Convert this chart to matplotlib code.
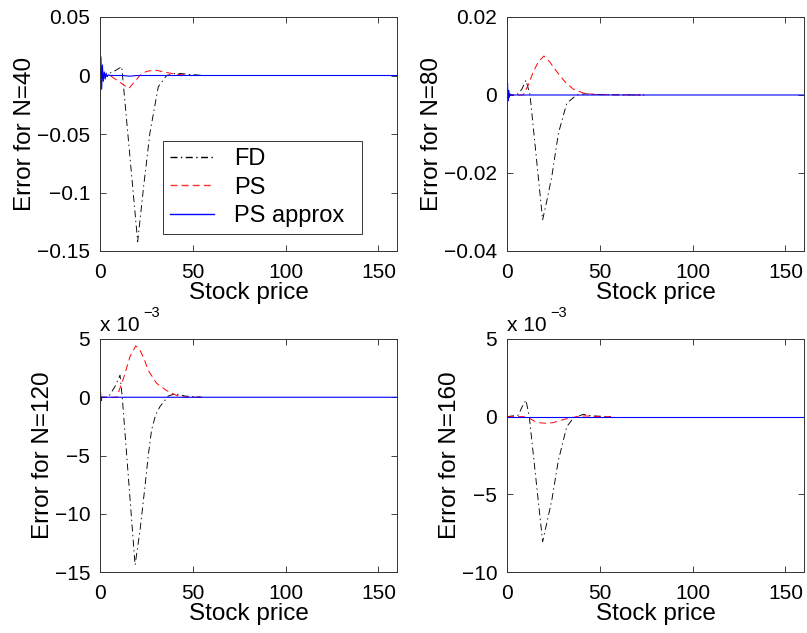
import matplotlib
matplotlib.use("Agg")
import matplotlib.pyplot as plt
from matplotlib.ticker import FixedLocator, FuncFormatter

plt.rcParams["font.family"] = ["Liberation Sans", "DejaVu Sans"]
plt.rcParams["lines.scale_dashes"] = False
plt.rcParams["axes.unicode_minus"] = True

TICK_FS = 15
LABEL_FS = 17.5
LEGEND_FS = 17

# ---- N = 40 ----
fd40_x = [0, 2, 4, 8, 11.7, 20.3, 23.5, 26.9, 31.4, 35.9, 41.4, 48, 56]
fd40_y = [0, 0.0, 0.001, 0.004, 0.0075, -0.142, -0.095, -0.049, -0.0096, 0.0, 0.002, 0.001, 0.0]
ps40_x = [0, 5.4, 10, 15.6, 21.5, 25, 29.6, 35.9, 41.4, 48.5, 56]
ps40_y = [0, 0.0, -0.005, -0.011, 0.0, 0.0035, 0.0047, 0.0025, 0.001, 0.0, 0.0]
pa40_x = [0, 0.5, 0.9, 1.3, 1.8, 2.3, 2.8, 3.3, 3.9, 4.5, 5.5, 12, 16, 20, 160]
pa40_y = [0, 0.016, -0.0118, 0.009, -0.005, 0.003, -0.003, 0.002, -0.001, 0.0005, 0.0, 0.0, -0.0006, 0.0, 0.0]

# ---- N = 80 ----
fd80_x = [0, 5.2, 8, 10.2, 12.4, 19.2, 21.5, 24.1, 27.7, 32.2, 37.5, 42, 50, 74]
fd80_y = [0, 0.0, 0.0015, 0.0038, 0.0, -0.032, -0.027, -0.021, -0.0098, -0.0021, 0.0, 0.0003, 0.0001, 0.0]
ps80_x = [0, 8.8, 11.5, 14.2, 16.9, 19.9, 23, 26.8, 31.2, 35.7, 41.1, 48, 74]
ps80_y = [0, 0.0, 0.0026, 0.006, 0.0085, 0.010, 0.0085, 0.006, 0.0034, 0.0015, 0.0005, 0.0001, 0.0]
pa80_x = [0, 0.3, 0.6, 0.9, 1.2, 1.6, 2, 160]
pa80_y = [0, 0.003, -0.0015, 0.0012, -0.0006, 0.0003, 0.0, 0.0]

# ---- N = 120 ----
fd120_x = [0, 4.5, 8, 10.8, 12, 18.9, 21.5, 24.2, 26, 27.8, 30, 32.3, 36.8, 40.4, 46, 55]
fd120_y = [0, 0.0, 0.9e-3, 1.9e-3, 0.0, -14.4e-3, -11.5e-3, -7.7e-3, -5.0e-3, -2.8e-3,
           -1.5e-3, -0.8e-3, 0.1e-3, 0.3e-3, 0.1e-3, 0.0]
ps120_x = [0, 9, 12.6, 16.2, 19.2, 21, 23.5, 26, 30.5, 35.9, 41.3, 46, 55]
ps120_y = [0, 0.0, 1.6e-3, 3.5e-3, 4.4e-3, 4.2e-3, 3.4e-3, 2.3e-3, 1.2e-3, 0.57e-3, 0.15e-3, 0.0, 0.0]
pa120_x = [0, 0.3, 0.6, 1.0, 160]
pa120_y = [0, 0.4e-3, -0.3e-3, 0.0, 0.0]

# ---- N = 160 ----
fd160_x = [0, 6.1, 8, 10.2, 12, 19.2, 24.1, 27.7, 32.2, 35.7, 41.1, 46, 56]
fd160_y = [0, 0.1e-3, 0.6e-3, 1.07e-3, 0.0, -8.05e-3, -5.4e-3, -2.8e-3, -0.64e-3, -0.1e-3,
           0.15e-3, 0.05e-3, 0.0]
ps160_x = [0, 8.8, 12, 15, 18, 21.7, 25, 30, 34, 37.5, 42, 50, 56]
ps160_y = [0, 0.0, -0.1e-3, -0.3e-3, -0.4e-3, -0.43e-3, -0.38e-3, -0.2e-3, -0.08e-3, 0.0,
           0.05e-3, 0.0, 0.0]
pa160_x = [0, 160]
pa160_y = [0, 0]

x_ticks = [0, 50, 100, 150]
labels = ["FD", "PS", "PS approx"]

panels = [
    dict(rect=[100, 17, 297, 234], fd=(fd40_x, fd40_y), ps=(ps40_x, ps40_y), pa=(pa40_x, pa40_y),
         ylim=(-0.15, 0.05), yticks=[-0.15, -0.1, -0.05, 0, 0.05], scale=1, ylabel="Error for N=40"),
    dict(rect=[507, 17, 297, 234], fd=(fd80_x, fd80_y), ps=(ps80_x, ps80_y), pa=(pa80_x, pa80_y),
         ylim=(-0.04, 0.02), yticks=[-0.04, -0.02, 0, 0.02], scale=1, ylabel="Error for N=80"),
    dict(rect=[100, 339, 297, 233], fd=(fd120_x, fd120_y), ps=(ps120_x, ps120_y), pa=(pa120_x, pa120_y),
         ylim=(-15e-3, 5e-3), yticks=[-15e-3, -10e-3, -5e-3, 0, 5e-3], scale=1e3, ylabel="Error for N=120"),
    dict(rect=[507, 339, 297, 233], fd=(fd160_x, fd160_y), ps=(ps160_x, ps160_y), pa=(pa160_x, pa160_y),
         ylim=(-10e-3, 5e-3), yticks=[-10e-3, -5e-3, 0, 5e-3], scale=1e3, ylabel="Error for N=160"),
]

W, H = 807, 633
fig = plt.figure(figsize=(W / 100, H / 100), dpi=100)


def fmt_factory(scale):
    def f(v, _):
        s = f"{v * scale:.10g}"
        if s in ("-0", "0.0", "-0.0"):
            s = "0"
        return s.replace("-", "\u2212")
    return FuncFormatter(f)


for i, p in enumerate(panels):
    l, t, w, h = p["rect"]
    ax = fig.add_axes([l / W, (H - t - h) / H, w / W, h / H])
    lfd, = ax.plot(*p["fd"], color="black", lw=0.65, dashes=(5, 2.5, 1, 2.5))
    lps, = ax.plot(*p["ps"], color="#ff0000", lw=0.7, dashes=(5, 3))
    lpa, = ax.plot(*p["pa"], color="#0000ff", lw=0.8)
    ax.set_xlim(0, 160)
    ax.set_ylim(*p["ylim"])
    ax.xaxis.set_major_locator(FixedLocator(x_ticks))
    ax.yaxis.set_major_locator(FixedLocator(p["yticks"]))
    ax.yaxis.set_major_formatter(fmt_factory(p["scale"]))
    ax.xaxis.set_major_formatter(fmt_factory(1))
    ax.tick_params(direction="in", length=4, width=0.6, top=True, right=True,
                   labelsize=TICK_FS, color="#222222")
    ax.tick_params(axis="x", pad=8.5)
    ax.tick_params(axis="y", pad=7)
    for sp in ax.spines.values():
        sp.set_color("#333333")
        sp.set_linewidth(0.7)
    ax.set_xlabel("Stock price", fontsize=LABEL_FS, labelpad=0)
    ax.set_ylabel(p["ylabel"], fontsize=LABEL_FS, labelpad=0.5)
    if p["scale"] != 1:
        ax.annotate("x 10", xy=(0, 1), xycoords="axes fraction", xytext=(0, 6),
                    textcoords="offset points", ha="left", va="baseline", fontsize=TICK_FS)
        ax.annotate("\u22123", xy=(0, 1), xycoords="axes fraction", xytext=(31, 16),
                    textcoords="offset points", ha="left", va="baseline", fontsize=10.5)
    if i == 0:
        leg = ax.legend([lfd, lps, lpa], labels, loc="lower left",
                        bbox_to_anchor=(0.213, 0.072, 0.67, 0.39), mode="expand",
                        borderaxespad=0, fancybox=False, framealpha=1, edgecolor="#333333",
                        fontsize=LEGEND_FS, handlelength=1.85, handletextpad=0.85,
                        labelspacing=0.27, borderpad=0.3)
        leg.get_frame().set_linewidth(0.7)
        for hl, c in zip(leg.legend_handles, ["black", "#ff3030", "#0000ff"]):
            hl.set_linewidth(1.0)
            hl.set_color(c)

fig.savefig("out.png", dpi=100)
